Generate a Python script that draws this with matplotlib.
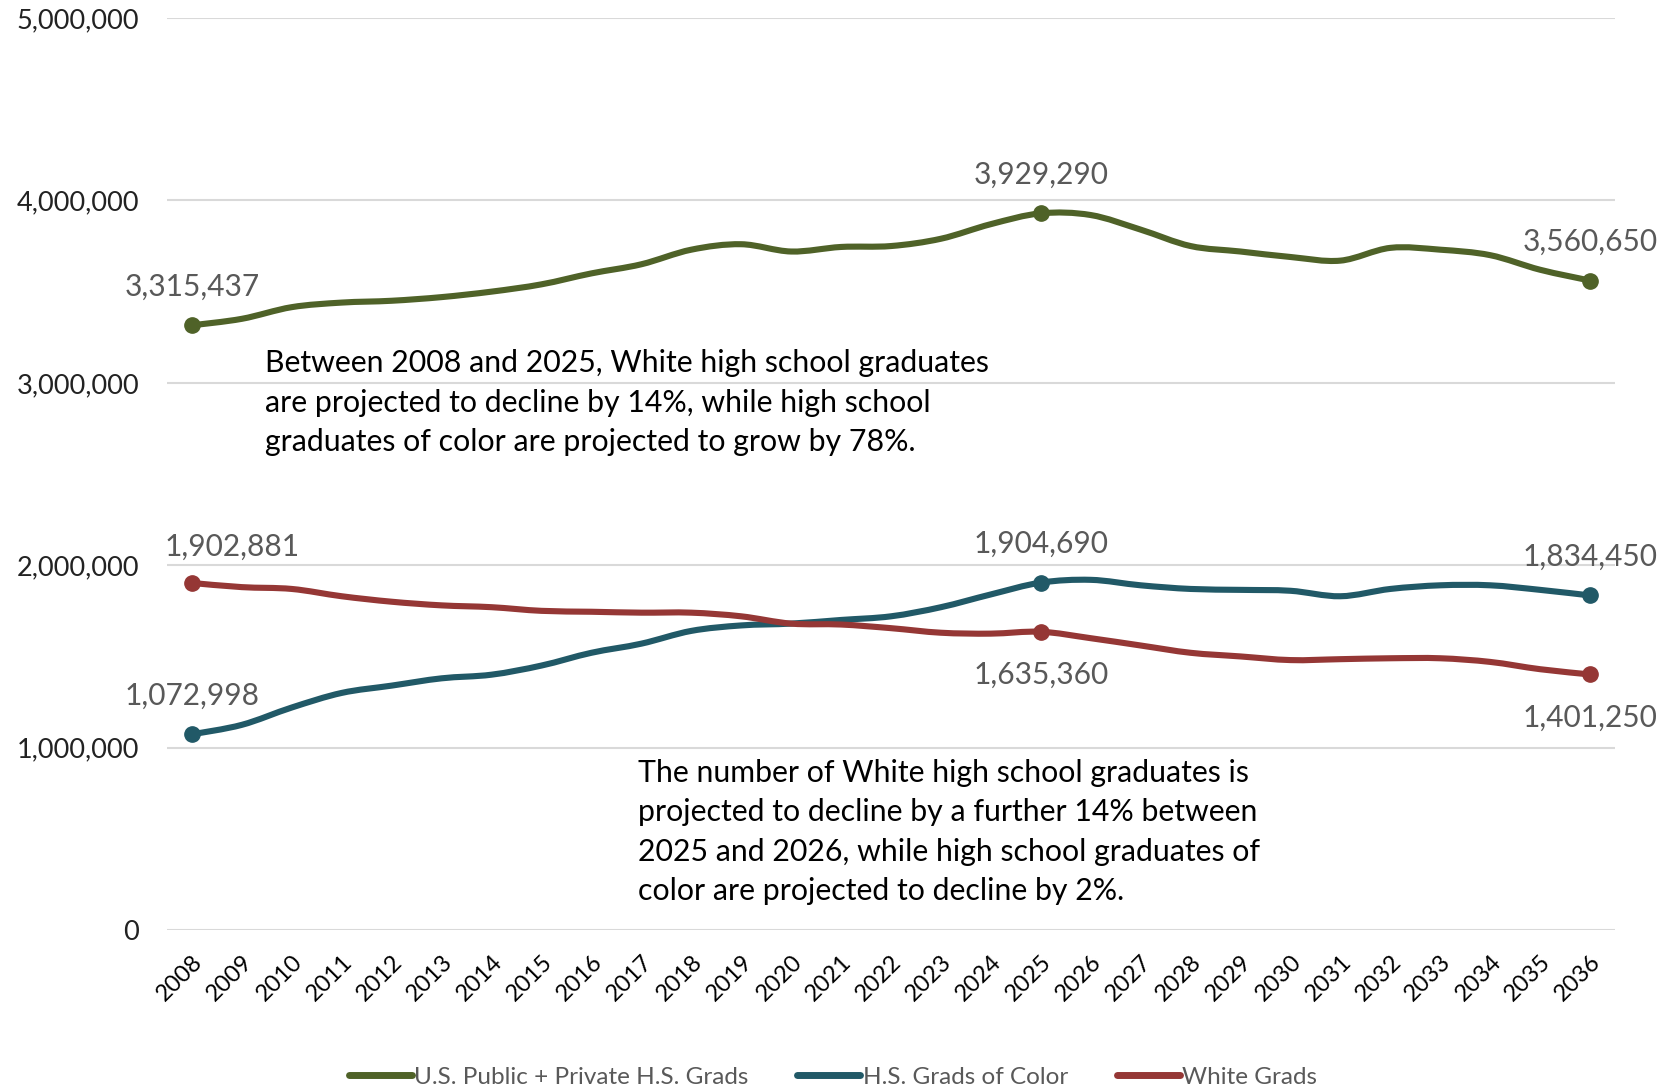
import numpy as np
import matplotlib
matplotlib.use("Agg")
import matplotlib.pyplot as plt
from matplotlib.path import Path
from matplotlib.patches import PathPatch
from matplotlib.lines import Line2D
from matplotlib.ticker import FuncFormatter

plt.rcParams['font.family'] = ['Lato', 'DejaVu Sans']

# ---- data ----
years = list(range(2008, 2037))
total_grads = [3315437, 3351000, 3415000, 3440000, 3450000, 3470000, 3500000,
               3540000, 3600000, 3650000, 3730000, 3760000, 3720000, 3745000,
               3750000, 3790000, 3870000, 3929290, 3920000, 3840000, 3750000,
               3720000, 3690000, 3670000, 3740000, 3730000, 3700000, 3620000,
               3560650]
color_grads = [1072998, 1125000, 1220000, 1300000, 1340000, 1380000, 1400000,
               1450000, 1520000, 1570000, 1640000, 1670000, 1680000, 1700000,
               1720000, 1770000, 1840000, 1904690, 1920000, 1890000, 1870000,
               1865000, 1860000, 1830000, 1870000, 1890000, 1890000, 1865000,
               1834450]
white_grads = [1902881, 1880000, 1870000, 1830000, 1800000, 1780000, 1770000,
               1750000, 1745000, 1740000, 1740000, 1720000, 1680000, 1675000,
               1655000, 1630000, 1625000, 1635360, 1600000, 1560000, 1520000,
               1500000, 1480000, 1485000, 1490000, 1490000, 1470000, 1430000,
               1401250]
series_names = ['U.S. Public + Private H.S. Grads', 'H.S. Grads of Color', 'White Grads']
series_colors = ['#4F6228', '#215967', '#953735']
label_years = [2008, 2025, 2036]
# label offsets in points (dx, dy)
label_offset = [[(0, 28), (0, 28), (0, 28)],
                [(0, 28), (0, 28), (0, 28)],
                [(29, 26), (0, -31), (0, -31)]]

note_top = ("Between 2008 and 2025, White high school graduates\n"
            "are projected to decline by 14%, while high school\n"
            "graduates of color are projected to grow by 78%.")
note_bottom = ("The number of White high school graduates is\n"
               "projected to decline by a further 14% between\n"
               "2025 and 2026, while high school graduates of\n"
               "color are projected to decline by 2%.")


def smooth_path(x, y):
    # Excel-style smoothed line: cubic Bezier segments through every point
    x = np.asarray(x, float)
    y = np.asarray(y, float)
    n = len(x)
    verts = [(x[0], y[0])]
    codes = [Path.MOVETO]
    for i in range(n - 1):
        i0 = max(i - 1, 0)
        i3 = min(i + 2, n - 1)
        c1 = (x[i] + (x[i + 1] - x[i0]) / 6, y[i] + (y[i + 1] - y[i0]) / 6)
        c2 = (x[i + 1] - (x[i3] - x[i]) / 6, y[i + 1] - (y[i3] - y[i]) / 6)
        verts += [c1, c2, (x[i + 1], y[i + 1])]
        codes += [Path.CURVE4] * 3
    return Path(verts, codes)


fig = plt.figure(figsize=(16.66, 10.87), dpi=100)
ax = fig.add_axes([0.1002, 0.1444, 0.8692, 0.839])

all_series = [total_grads, color_grads, white_grads]
for vals, col, offs in zip(all_series, series_colors, label_offset):
    ax.add_patch(PathPatch(smooth_path(years, vals), facecolor='none',
                           edgecolor=col, lw=4.4, capstyle='round', zorder=3))
    for yr, off in zip(label_years, offs):
        v = vals[years.index(yr)]
        ax.plot(yr, v, 'o', color=col, ms=11, zorder=4)
        ax.annotate(f'{v:,}', (yr, v), xytext=off,
                    textcoords='offset points', ha='center', va='center',
                    fontsize=21.5, color='#595959')

ax.text(2009.47, 2.89e6, note_top, fontsize=21.8, color='black',
        ha='left', va='center', linespacing=1.5)
ax.text(2016.94, 0.537e6, note_bottom, fontsize=21.8, color='black',
        ha='left', va='center', linespacing=1.5)

ax.set_xlim(2007.5, 2036.5)
ax.set_ylim(0, 5e6)
ax.set_yticks(np.arange(0, 5.01e6, 1e6))
ax.yaxis.set_major_formatter(FuncFormatter(lambda v, p: f'{int(v):,}'))
ax.set_xticks(years)
ax.set_xticklabels([str(y) for y in years], rotation=45, ha='right',
                   rotation_mode='anchor', fontsize=17, color='black')
ax.tick_params(axis='y', length=0, pad=20, labelsize=19.5, labelcolor='#222222')
ax.tick_params(axis='x', length=0, pad=15)
ax.grid(axis='y', color='#d9d9d9', lw=1.5)
ax.set_axisbelow(True)
for s in ax.spines.values():
    s.set_visible(False)

handles = [Line2D([], [], color=c, lw=5, solid_capstyle='round') for c in series_colors]
leg = fig.legend(handles, series_names, loc='center', bbox_to_anchor=(0.5, 0.009),
                 ncol=3, frameon=False, fontsize=17.5, handlelength=2.6,
                 handletextpad=0.1, columnspacing=2.0)
for t in leg.get_texts():
    t.set_color('#595959')

fig.savefig('out.png', dpi=100)
